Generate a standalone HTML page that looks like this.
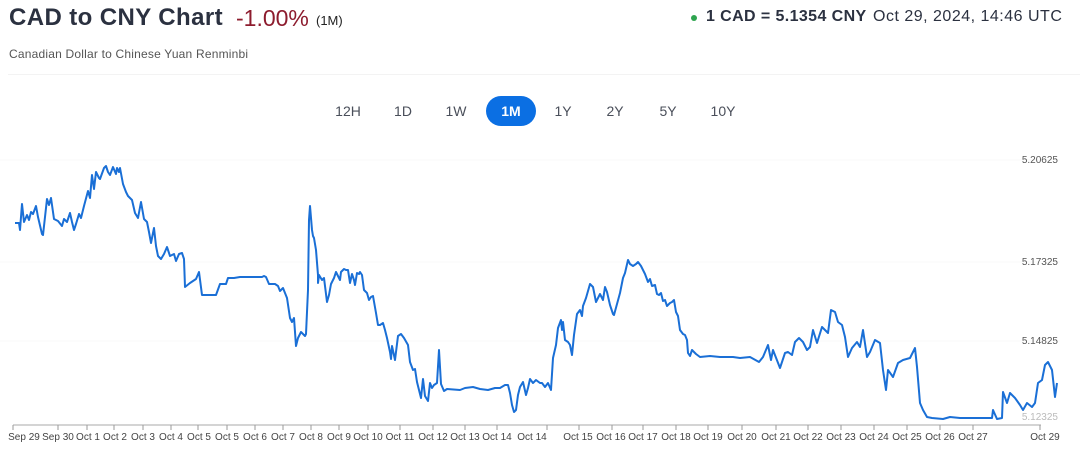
<!DOCTYPE html>
<html><head><meta charset="utf-8"><style>
body{margin:0;width:1080px;height:449px;background:#fff;font-family:"Liberation Sans",sans-serif;position:relative;overflow:hidden}
.a{position:absolute;white-space:nowrap}
.btn{position:absolute;top:96px;height:30px;line-height:30px;font-size:14px;color:#4a4f5a;text-align:center;width:50px}
</style></head><body>
<div class="a" style="left:9px;top:4px;font-size:24px;letter-spacing:0.4px;font-weight:bold;color:#2b3140">CAD to CNY Chart</div>
<div class="a" style="left:236px;top:5px;font-size:23px;color:#8d1c2e">-1.00%</div>
<div class="a" style="left:316px;top:13px;font-size:13px;color:#222">(1M)</div>
<div class="a" style="left:9px;top:47px;font-size:12px;letter-spacing:0.2px;color:#555">Canadian Dollar to Chinese Yuan Renminbi</div>
<div class="a" style="left:691px;top:15px;width:6px;height:6px;border-radius:50%;background:#2ea44f"></div>
<div class="a" style="left:706px;top:8px;font-size:16px;letter-spacing:0.4px;font-weight:bold;color:#2b3140">1 CAD = 5.1354 CNY</div>
<div class="a" style="left:873px;top:8px;font-size:16px;letter-spacing:0.5px;color:#2b3140">Oct 29, 2024, 14:46 UTC</div>
<div class="a" style="left:8px;top:74px;width:1072px;height:1px;background:#f3f3f3"></div>
<div class="btn" style="left:323px">12H</div>
<div class="btn" style="left:378px">1D</div>
<div class="btn" style="left:431px">1W</div>
<div class="btn" style="left:486px;background:#0b6fe3;color:#fff;font-weight:bold;border-radius:15px">1M</div>
<div class="btn" style="left:538px">1Y</div>
<div class="btn" style="left:590px">2Y</div>
<div class="btn" style="left:643px">5Y</div>
<div class="btn" style="left:698px">10Y</div>
<svg class="a" style="left:0;top:0" width="1080" height="449">
<g stroke="#f8f8f8" stroke-width="1"><line x1="0" y1="160" x2="1060" y2="160"/><line x1="0" y1="262" x2="1060" y2="262"/><line x1="0" y1="341" x2="1060" y2="341"/></g>
<g font-size="10" fill="#555" text-anchor="end" font-family="Liberation Sans,sans-serif">
<text x="1058" y="163">5.20625</text><text x="1058" y="265">5.17325</text><text x="1058" y="344">5.14825</text><text x="1058" y="420" fill="#bbb">5.12325</text></g>
<polyline fill="none" stroke="#1a6fd6" stroke-width="2" stroke-linejoin="round" points="15,223 19,223 20,230 22,204 24,222 27,215 29,220 31,212 33,214 36,206 38,217 42,234 43,235 47,199 49,205 51,198 54,219 58,221 62,226 64,219 67,222 70,213 72,222 74,230 76,224 79,214 81,218 84,206 88,191 90,198 92,175 94,189 96,172 99,178 100,179 104,168 106,166 108,172 110,175 113,167 116,174 117,168 119,172 120,168 123,184 126,192 128,196 132,200 135,213 138,218 141,202 144,219 147,222 149,232 151,243 154,228 156,246 158,256 161,259 164,254 167,247 170,256 174,254 176,261 179,254 182,253 184,259 185,287 190,283 196,279 199,272 202,295 209,295 216,295 220,284 226,284 228,278 234,278 240,277 252,277 262,277 264,276 266,277 269,284 275,284 278,286 280,291 283,288 287,298 290,318 292,322 294,318 296,346 298,338 301,332 305,336 306,334 308,290 309,220 310,206 312,230 313,236 314,238 316,250 318,275 318,283 319,275 322,280 324,278 327,302 329,295 331,284 334,278 336,272 339,278 340,280 341,272 344,269 346,270 348,270 350,283 352,274 354,280 355,285 357,273 359,274 360,272 362,275 364,290 367,293 369,300 371,297 373,296 376,313 378,325 380,325 383,323 385,330 387,338 390,352 391,359 392,346 395,360 398,336 401,334 404,338 408,345 410,362 413,370 415,369 417,382 419,390 421,398 423,379 425,396 428,401 430,383 432,388 434,385 437,383 439,350 441,384 444,391 447,389 460,390 465,388 473,387 480,389 488,390 495,388 500,388 505,385 508,385 510,393 512,405 514,412 516,410 518,395 520,387 523,382 526,395 528,388 530,379 533,383 536,380 540,383 542,383 545,387 548,383 551,390 553,358 556,345 558,328 561,320 562,330 563,322 565,340 568,342 570,345 572,355 574,335 577,314 580,310 582,316 583,306 586,298 590,284 593,287 596,302 598,298 600,294 603,300 605,287 607,292 610,305 613,314 614,315 617,304 620,293 623,278 625,273 628,260 630,264 633,266 636,264 638,262 641,266 643,270 645,274 648,282 650,279 652,286 655,285 657,294 659,295 661,293 663,301 665,300 667,306 670,303 672,302 674,300 676,312 678,316 680,330 683,334 685,335 687,340 688,353 690,356 692,350 696,354 700,357 710,356 720,357 733,357 740,358 750,357 759,362 763,357 768,345 771,360 773,350 780,368 785,353 788,352 792,355 795,342 799,338 803,342 807,350 810,347 813,330 817,343 822,327 828,333 831,310 835,312 838,322 842,325 845,337 848,357 852,348 857,342 860,347 863,330 867,357 870,352 875,340 880,343 883,370 886,390 888,370 893,377 898,363 903,360 910,358 915,348 917,367 920,403 923,410 927,417 932,418 943,419 950,417 960,418 977,418 992,418 993,410 997,419 1002,418 1003,392 1007,403 1010,393 1015,398 1020,405 1023,410 1027,403 1032,407 1035,403 1038,383 1042,380 1045,365 1048,362 1052,370 1055,397 1057,383"/>
<line x1="13" y1="425" x2="1041" y2="425" stroke="#aaa" stroke-width="1"/>
<g stroke="#999" stroke-width="1">
<line x1="13" y1="425" x2="13" y2="430"/><line x1="58" y1="425" x2="58" y2="430"/><line x1="87" y1="425" x2="87" y2="430"/><line x1="114" y1="425" x2="114" y2="430"/><line x1="143" y1="425" x2="143" y2="430"/><line x1="171" y1="425" x2="171" y2="430"/><line x1="198" y1="425" x2="198" y2="430"/><line x1="227" y1="425" x2="227" y2="430"/><line x1="255" y1="425" x2="255" y2="430"/><line x1="283" y1="425" x2="283" y2="430"/><line x1="311" y1="425" x2="311" y2="430"/><line x1="339" y1="425" x2="339" y2="430"/><line x1="368" y1="425" x2="368" y2="430"/><line x1="400" y1="425" x2="400" y2="430"/><line x1="433" y1="425" x2="433" y2="430"/><line x1="465" y1="425" x2="465" y2="430"/><line x1="497" y1="425" x2="497" y2="430"/><line x1="547" y1="425" x2="547" y2="430"/><line x1="579" y1="425" x2="579" y2="430"/><line x1="612" y1="425" x2="612" y2="430"/><line x1="643" y1="425" x2="643" y2="430"/><line x1="676" y1="425" x2="676" y2="430"/><line x1="708" y1="425" x2="708" y2="430"/><line x1="742" y1="425" x2="742" y2="430"/><line x1="776" y1="425" x2="776" y2="430"/><line x1="808" y1="425" x2="808" y2="430"/><line x1="841" y1="425" x2="841" y2="430"/><line x1="874" y1="425" x2="874" y2="430"/><line x1="907" y1="425" x2="907" y2="430"/><line x1="940" y1="425" x2="940" y2="430"/><line x1="973" y1="425" x2="973" y2="430"/><line x1="1040" y1="425" x2="1040" y2="430"/></g>
<g font-size="10" fill="#444" text-anchor="middle" font-family="Liberation Sans,sans-serif">
<text x="24" y="440">Sep 29</text><text x="58" y="440">Sep 30</text><text x="88" y="440">Oct 1</text><text x="115" y="440">Oct 2</text><text x="143" y="440">Oct 3</text><text x="171" y="440">Oct 4</text><text x="199" y="440">Oct 5</text><text x="227" y="440">Oct 5</text><text x="255" y="440">Oct 6</text><text x="283" y="440">Oct 7</text><text x="311" y="440">Oct 8</text><text x="339" y="440">Oct 9</text><text x="368" y="440">Oct 10</text><text x="400" y="440">Oct 11</text><text x="433" y="440">Oct 12</text><text x="465" y="440">Oct 13</text><text x="497" y="440">Oct 14</text><text x="532" y="440">Oct 14</text><text x="578" y="440">Oct 15</text><text x="611" y="440">Oct 16</text><text x="643" y="440">Oct 17</text><text x="676" y="440">Oct 18</text><text x="708" y="440">Oct 19</text><text x="742" y="440">Oct 20</text><text x="776" y="440">Oct 21</text><text x="808" y="440">Oct 22</text><text x="841" y="440">Oct 23</text><text x="874" y="440">Oct 24</text><text x="907" y="440">Oct 25</text><text x="940" y="440">Oct 26</text><text x="973" y="440">Oct 27</text><text x="1045" y="440">Oct 29</text></g>
</svg>
</body></html>
